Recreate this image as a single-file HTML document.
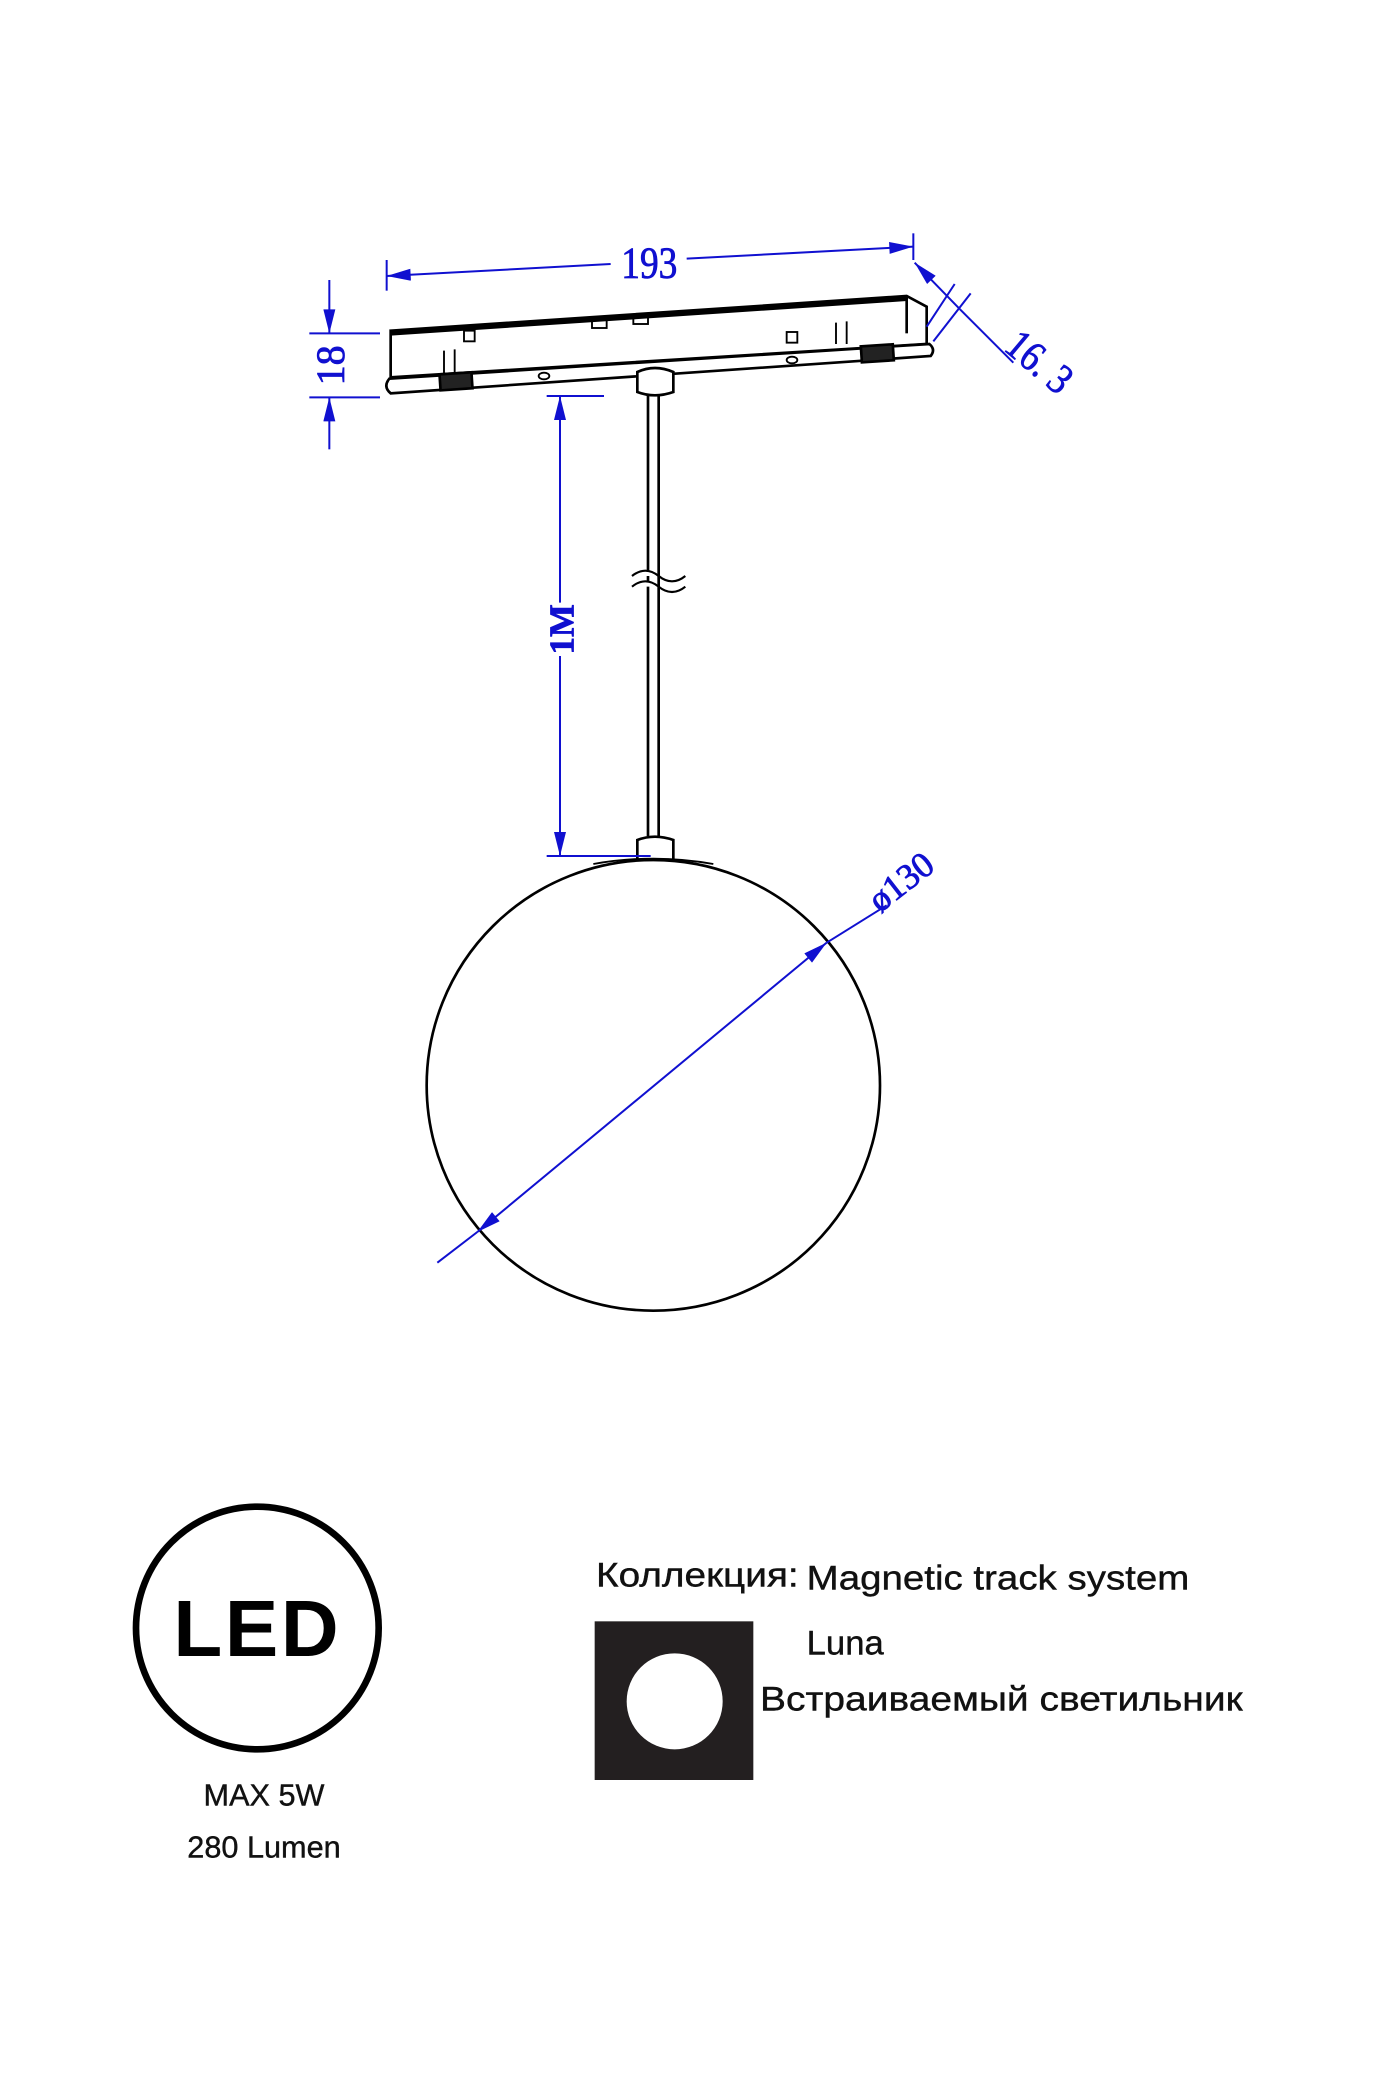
<!DOCTYPE html>
<html><head><meta charset="utf-8"><style>
html,body{margin:0;padding:0;background:#fff;}
svg{display:block;}
</style></head><body>
<svg width="1400" height="2100" viewBox="0 0 1050 1575" xmlns="http://www.w3.org/2000/svg">
<defs>
<marker id="arb" viewBox="0 0 20 10" refX="20" refY="5" markerWidth="22" markerHeight="9" markerUnits="userSpaceOnUse" orient="auto-start-reverse"><path d="M0,0 L20,5 L0,10 z" fill="#1010d0"/></marker>
</defs>
<g fill="none" stroke="#000" stroke-width="2">
<polygon points="293,248 680,222 695,230 695,258 293,283" fill="#fff"/>
<line x1="293" y1="250" x2="680" y2="224" stroke-width="3.5"/>
<line x1="680" y1="222" x2="680" y2="250"/>
<path d="M292,284 L697,258 Q702,262 698,267 L293,295 Q287,290 292,284 z" fill="#fff"/>
<rect x="330" y="280" width="24" height="12" fill="#222" transform="rotate(-3.8 342 286)"/>
<rect x="646" y="259" width="24" height="12" fill="#222" transform="rotate(-3.8 658 265)"/>
<rect x="348" y="248" width="8" height="8" stroke-width="1.4"/>
<rect x="444" y="240" width="11" height="6" stroke-width="1.4"/>
<rect x="475" y="237" width="11" height="6" stroke-width="1.4"/>
<rect x="590" y="249" width="8" height="8" stroke-width="1.4"/>
<path d="M333,280 V263 M341,280 V262 M627,258 V242 M635,258 V241" stroke-width="1.4"/>
<ellipse cx="408" cy="282" rx="4" ry="2.5" stroke-width="1.4"/>
<ellipse cx="594" cy="270" rx="4" ry="2.5" stroke-width="1.4"/>
<path d="M478,279 Q491,273 505,279 V294 Q491,299 478,294 z" fill="#fff"/>
<line x1="486" y1="297" x2="486" y2="627"/>
<line x1="494" y1="297" x2="494" y2="627"/>
<path d="M474,432 q10,-8 20,0 t20,0 M474,440 q10,-8 20,0 t20,0" stroke-width="1.6" fill="#fff"/>
<path d="M478,645 V630 Q491,625 505,630 V645" fill="#fff"/>
<ellipse cx="490" cy="814" rx="170" ry="169" fill="none"/>
<path d="M445,648 Q490,640 535,648" stroke-width="1.4"/>
</g>
<g stroke="#1010d0" stroke-width="1.5" fill="none">
<line x1="290" y1="195" x2="290" y2="218"/>
<line x1="685" y1="175" x2="685" y2="195"/>
<line x1="290" y1="207" x2="458" y2="198" marker-start="url(#arb)"/>
<line x1="515" y1="194" x2="685" y2="185" marker-end="url(#arb)"/>
<line x1="686" y1="197" x2="720" y2="232" marker-start="url(#arb)"/>
<line x1="720" y1="232" x2="760" y2="272"/>
<line x1="695" y1="245" x2="716" y2="213"/>
<line x1="700" y1="256" x2="728" y2="220"/>
<line x1="232" y1="250" x2="285" y2="250"/>
<line x1="232" y1="298" x2="285" y2="298"/>
<line x1="247" y1="210" x2="247" y2="250" marker-end="url(#arb)"/>
<line x1="247" y1="337" x2="247" y2="298" marker-end="url(#arb)"/>
<line x1="410" y1="297" x2="453" y2="297"/>
<line x1="410" y1="642" x2="488" y2="642"/>
<line x1="420" y1="452" x2="420" y2="297" marker-end="url(#arb)"/>
<line x1="420" y1="492" x2="420" y2="642" marker-end="url(#arb)"/>
<line x1="328" y1="947" x2="358" y2="924"/>
<line x1="665" y1="679" x2="620" y2="707"/>
<line x1="620" y1="707" x2="358" y2="924" marker-start="url(#arb)" marker-end="url(#arb)"/>
</g>
<g fill="#1010d0" font-family="Liberation Serif, serif" stroke="#1010d0" stroke-width="0.6">
<text transform="translate(487,208) scale(0.85,1)" font-size="33" text-anchor="middle">193</text>
<text transform="translate(752,262) rotate(40) scale(0.85,1)" font-size="32">16. 3</text>
<text transform="translate(258,274) rotate(-90)" font-size="30" text-anchor="middle">18</text>
<text transform="translate(430,472) rotate(-90)" font-size="26" text-anchor="middle" font-weight="bold">1M</text>
<text transform="translate(660,685) rotate(-38)" font-size="27">ø130</text>
</g>
<circle cx="193" cy="1221" r="91" fill="none" stroke="#000" stroke-width="5"/>
<text x="193" y="1242" font-family="Liberation Sans, sans-serif" font-weight="bold" font-size="60" text-anchor="middle" letter-spacing="2">LED</text>
<g font-family="Liberation Sans, sans-serif" fill="#111" font-size="23" stroke="#111" stroke-width="0.3">
<text x="198" y="1354" text-anchor="middle">MAX 5W</text>
<text x="198" y="1393" text-anchor="middle">280 Lumen</text>
</g>
<g font-family="Liberation Sans, 'DejaVu Sans', sans-serif" fill="#111" font-size="26" stroke="#111" stroke-width="0.3">
<text x="447" y="1190" textLength="152" lengthAdjust="spacingAndGlyphs">Коллекция:</text>
<text x="605" y="1192" textLength="287" lengthAdjust="spacingAndGlyphs">Magnetic track system</text>
<text x="605" y="1241">Luna</text>
<text x="570" y="1283" textLength="362" lengthAdjust="spacingAndGlyphs">Встраиваемый светильник</text>
</g>
<rect x="446" y="1216" width="119" height="119" fill="#231f20"/>
<circle cx="506" cy="1276" r="36" fill="#fff"/>
</svg>
</body></html>
